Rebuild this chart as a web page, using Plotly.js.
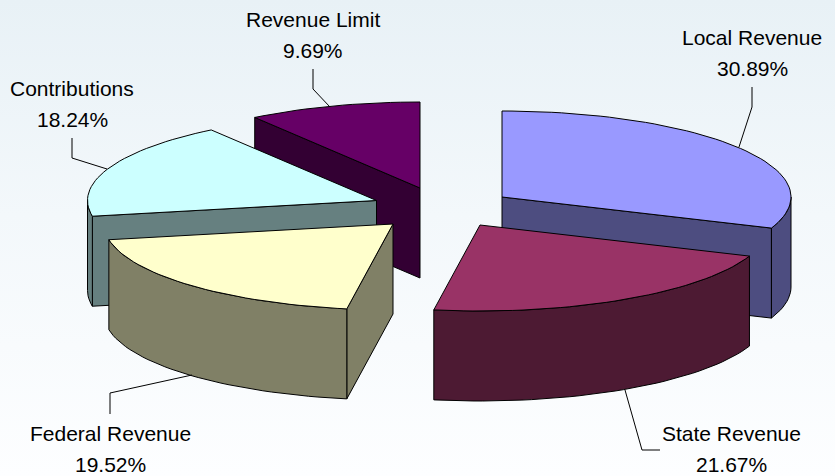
<!DOCTYPE html>
<html>
<head>
<meta charset="utf-8">
<script src="https://cdn.plot.ly/plotly-3.0.1.min.js"></script>
<style>
  html, body { margin: 0; padding: 0; width: 835px; height: 476px; overflow: hidden; }
  body { background: linear-gradient(to bottom, #e8f1f6 0%, #f3f8fb 45%, #fdfeff 100%); }
  #chart { width: 835px; height: 476px; }
</style>
</head>
<body>
<div id="chart"></div>
<script>
// Revenue sources and their share of the total, clockwise from twelve o'clock.
const categories = ['Local Revenue', 'State Revenue', 'Federal Revenue', 'Contributions', 'Revenue Limit'];
const shares = [30.89, 21.67, 19.52, 18.24, 9.69];
const topColors = ['#9999ff', '#993366', '#ffffcc', '#ccffff', '#660066'];
const sideColors = ['#4d4d80', '#4d1a33', '#808066', '#668080', '#330033'];

// Exploded position of each wedge's apex on the page.
const apexX = [502, 480, 393, 376.5, 420];
const apexY = [197, 225, 224, 200.5, 188];
// Label anchor (centre of the two text lines) and leader polyline per wedge.
const labelX = [752, 731, 110, 72, 313];
const labelY = [37.5, 433.5, 433.5, 88.5, 19.5];
const leaderX = [[752, 752, 739], [660, 642, 625], [110, 110, 192], [72, 72, 107], [313, 313, 330]];
const leaderY = [[87, 107, 147], [450, 450, 390], [414, 393, 375], [138, 158, 169], [69, 89, 107]];

// Projection of the tilted disc.
const RX = 289, RY = 86, DEPTH = 90;
const total = shares.reduce((a, b) => a + b, 0);

const project = (i, deg, drop) => {
  const t = deg * Math.PI / 180;
  return [apexX[i] + RX * Math.sin(t), apexY[i] - RY * Math.cos(t) + drop];
};
const arc = (i, from, to, drop) => {
  const pts = [];
  const steps = Math.max(1, Math.ceil(Math.abs(to - from) / 2));
  for (let k = 0; k <= steps; k++) pts.push(project(i, from + (to - from) * k / steps, drop));
  return pts;
};
const polygon = (pts, fill) => ({
  type: 'scatter', mode: 'lines', fill: 'toself', fillcolor: fill,
  x: pts.map(p => p[0]).concat(pts[0][0]),
  y: pts.map(p => p[1]).concat(pts[0][1]),
  line: { color: '#000000', width: 1 }, hoverinfo: 'skip', showlegend: false
});

// Wedge angles in degrees.
let acc = 0;
const spans = shares.map(s => { const a = acc; acc += s / total * 360; return [a, acc]; });

const wedgeTraces = i => {
  const [a0, a1] = spans[i];
  const apex = [apexX[i], apexY[i]];
  const apexLow = [apexX[i], apexY[i] + DEPTH];
  const out = [];
  const cutFace = a => polygon([apex, project(i, a, 0), project(i, a, DEPTH), apexLow], sideColors[i]);
  // Radial cut faces, drawn only when they turn toward the viewer.
  if (Math.sin(a0 * Math.PI / 180) < -1e-6) out.push(cutFace(a0));
  if (Math.sin(a1 * Math.PI / 180) > 1e-6) out.push(cutFace(a1));
  // Outer rim: only the part between 90 and 270 degrees faces the viewer.
  const r0 = Math.max(a0, 90), r1 = Math.min(a1, 270);
  if (r1 > r0) {
    out.push(polygon(arc(i, r0, r1, 0).concat(arc(i, r1, r0, DEPTH)), sideColors[i]));
  }
  // Top face.
  out.push(polygon([apex].concat(arc(i, a0, a1, 0)), topColors[i]));
  return out;
};

// Painter's order: farthest wedges first.
const order = [4, 3, 0, 1, 2];
const traces = [];
order.forEach(i => traces.push(...wedgeTraces(i)));

// Leader lines.
categories.forEach((_, i) => traces.push({
  type: 'scatter', mode: 'lines', x: leaderX[i], y: leaderY[i],
  line: { color: '#000000', width: 1 }, hoverinfo: 'skip', showlegend: false
}));

// Two-line labels.
const font = { family: '"Liberation Sans", Arial, sans-serif', size: 21, color: '#000000' };
const note = (x, y, text) => ({ x, y, text, xref: 'x', yref: 'y', showarrow: false, font, xanchor: 'center', yanchor: 'middle', borderpad: 0 });
const annotations = [];
categories.forEach((name, i) => {
  annotations.push(note(labelX[i], labelY[i], name));
  annotations.push(note(labelX[i], labelY[i] + 30.5, shares[i].toFixed(2) + '%'));
});

const hidden = { visible: false, fixedrange: true };
Plotly.newPlot('chart', traces, {
  width: 835, height: 476,
  margin: { l: 0, r: 0, t: 0, b: 0 },
  paper_bgcolor: 'rgba(0,0,0,0)', plot_bgcolor: 'rgba(0,0,0,0)',
  xaxis: Object.assign({ range: [0, 835] }, hidden),
  yaxis: Object.assign({ range: [476, 0] }, hidden),
  showlegend: false,
  annotations
}, { staticPlot: true, displayModeBar: false });
</script>
</body>
</html>
